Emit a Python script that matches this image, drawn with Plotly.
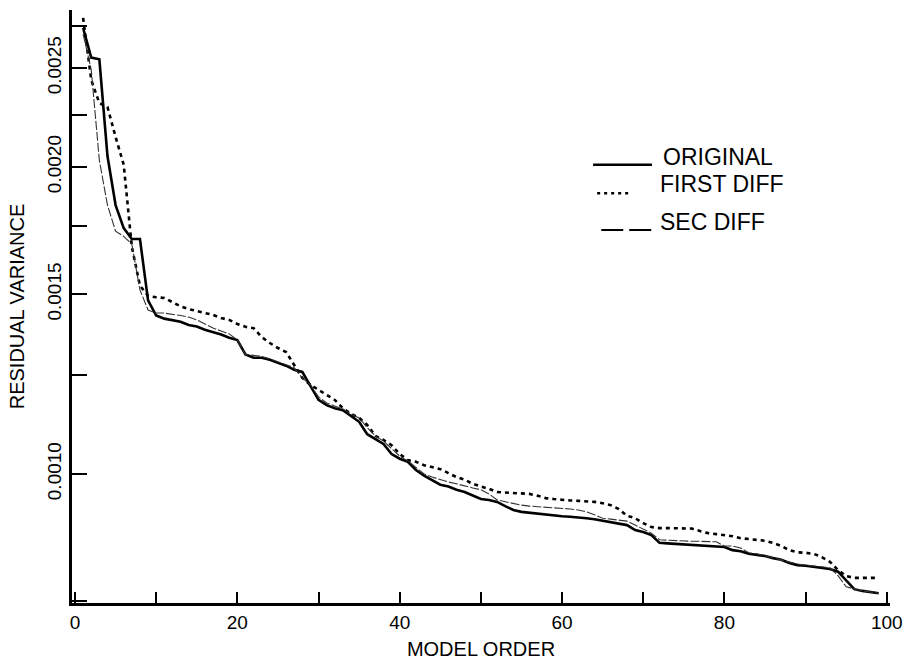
import plotly.graph_objects as go

order = list(range(1, 100))

original = [
    2.737e-3, 2.56e-3, 2.55e-3, 2.05e-3, 1.835e-3, 1.742e-3, 1.70e-3, 1.70e-3, 1.48e-3, 1.43e-3,
    1.42e-3, 1.415e-3, 1.41e-3, 1.40e-3, 1.395e-3, 1.385e-3, 1.378e-3, 1.37e-3, 1.36e-3, 1.353e-3,
    1.31e-3, 1.30e-3, 1.30e-3, 1.294e-3, 1.285e-3, 1.277e-3, 1.265e-3, 1.259e-3, 1.22e-3, 1.182e-3,
    1.168e-3, 1.16e-3, 1.155e-3, 1.14e-3, 1.125e-3, 1.094e-3, 1.082e-3, 1.07e-3, 1.046e-3, 1.035e-3,
    1.028e-3, 1.009e-3, 0.996e-3, 0.985e-3, 0.976e-3, 0.972e-3, 0.965e-3, 0.96e-3, 0.952e-3, 0.945e-3,
    0.943e-3, 0.939e-3, 0.93e-3, 0.922e-3, 0.918e-3, 0.916e-3, 0.914e-3, 0.912e-3, 0.91e-3, 0.909e-3,
    0.908e-3, 0.907e-3, 0.905e-3, 0.903e-3, 0.900e-3, 0.897e-3, 0.894e-3, 0.891e-3, 0.881e-3, 0.877e-3,
    0.871e-3, 0.856e-3, 0.855e-3, 0.854e-3, 0.853e-3, 0.852e-3, 0.852e-3, 0.851e-3, 0.85e-3, 0.848e-3,
    0.842e-3, 0.84e-3, 0.835e-3, 0.833e-3, 0.831e-3, 0.827e-3, 0.824e-3, 0.818e-3, 0.814e-3, 0.813e-3,
    0.811e-3, 0.809e-3, 0.807e-3, 0.802e-3, 0.787e-3, 0.771e-3, 0.768e-3, 0.766e-3, 0.764e-3,
]

first_diff = [
    2.80e-3, 2.434e-3, 2.31e-3, 2.29e-3, 2.14e-3, 2.01e-3, 1.67e-3, 1.53e-3, 1.495e-3, 1.49e-3,
    1.488e-3, 1.474e-3, 1.46e-3, 1.451e-3, 1.445e-3, 1.438e-3, 1.432e-3, 1.422e-3, 1.416e-3, 1.403e-3,
    1.394e-3, 1.39e-3, 1.362e-3, 1.344e-3, 1.329e-3, 1.317e-3, 1.279e-3, 1.242e-3, 1.223e-3, 1.209e-3,
    1.195e-3, 1.182e-3, 1.16e-3, 1.145e-3, 1.135e-3, 1.117e-3, 1.09e-3, 1.08e-3, 1.067e-3, 1.046e-3,
    1.032e-3, 1.028e-3, 1.02e-3, 1.016e-3, 1.011e-3, 1.002e-3, 0.993e-3, 0.987e-3, 0.978e-3, 0.972e-3,
    0.967e-3, 0.96e-3, 0.959e-3, 0.958e-3, 0.958e-3, 0.956e-3, 0.952e-3, 0.947e-3, 0.945e-3, 0.943e-3,
    0.942e-3, 0.941e-3, 0.94e-3, 0.939e-3, 0.936e-3, 0.932e-3, 0.924e-3, 0.91e-3, 0.905e-3, 0.895e-3,
    0.887e-3, 0.885e-3, 0.885e-3, 0.885e-3, 0.885e-3, 0.884e-3, 0.879e-3, 0.875e-3, 0.873e-3, 0.871e-3,
    0.869e-3, 0.865e-3, 0.863e-3, 0.862e-3, 0.86e-3, 0.856e-3, 0.85e-3, 0.842e-3, 0.838e-3, 0.837e-3,
    0.835e-3, 0.829e-3, 0.82e-3, 0.805e-3, 0.794e-3, 0.791e-3, 0.791e-3, 0.791e-3, 0.791e-3,
]

sec_diff = [
    2.70e-3, 2.49e-3, 2.03e-3, 1.835e-3, 1.73e-3, 1.71e-3, 1.68e-3, 1.515e-3, 1.448e-3, 1.438e-3,
    1.438e-3, 1.435e-3, 1.43e-3, 1.425e-3, 1.416e-3, 1.403e-3, 1.39e-3, 1.381e-3, 1.372e-3, 1.353e-3,
    1.31e-3, 1.307e-3, 1.304e-3, 1.297e-3, 1.288e-3, 1.28e-3, 1.271e-3, 1.242e-3, 1.223e-3, 1.19e-3,
    1.174e-3, 1.166e-3, 1.158e-3, 1.145e-3, 1.135e-3, 1.11e-3, 1.09e-3, 1.077e-3, 1.058e-3, 1.041e-3,
    1.03e-3, 1.014e-3, 1.0e-3, 0.993e-3, 0.987e-3, 0.982e-3, 0.978e-3, 0.973e-3, 0.969e-3, 0.965e-3,
    0.956e-3, 0.943e-3, 0.939e-3, 0.935e-3, 0.932e-3, 0.93e-3, 0.929e-3, 0.928e-3, 0.927e-3, 0.926e-3,
    0.924e-3, 0.922e-3, 0.918e-3, 0.912e-3, 0.905e-3, 0.903e-3, 0.901e-3, 0.899e-3, 0.891e-3, 0.883e-3,
    0.875e-3, 0.862e-3, 0.861e-3, 0.86e-3, 0.86e-3, 0.859e-3, 0.859e-3, 0.858e-3, 0.858e-3, 0.85e-3,
    0.85e-3, 0.846e-3, 0.837e-3, 0.835e-3, 0.831e-3, 0.827e-3, 0.824e-3, 0.82e-3, 0.816e-3, 0.814e-3,
    0.813e-3, 0.811e-3, 0.809e-3, 0.795e-3, 0.775e-3, 0.771e-3, 0.768e-3, 0.766e-3, 0.764e-3,
]

series_names = ["ORIGINAL", "FIRST DIFF", "SEC DIFF"]
x_tick_vals = list(range(0, 101, 10))
x_tick_text = ["0", "", "20", "", "40", "", "60", "", "80", "", "100"]
y_tick_vals = [0.00075, 0.001, 0.00125, 0.0015, 0.00175, 0.002, 0.00225, 0.0025, 0.00275]
y_tick_text = ["", "0.0010", "", "0.0015", "", "0.0020", "", "0.0025", ""]

FONT = "Liberation Sans, Arial, sans-serif"
styles = [
    dict(color="black", width=2.6, dash="solid"),
    dict(color="black", width=2.6, dash="4px,4px"),
    dict(color="#333333", width=1.1, dash="9px,2px"),
]
legend_samples = [
    dict(color="black", width=2.4, dash="solid"),
    dict(color="black", width=2.6, dash="3px,4px"),
    dict(color="black", width=2.2, dash="22px,6px"),
]

fig = go.Figure()
for name, vals, st in zip(series_names, [original, first_diff, sec_diff], styles):
    fig.add_trace(go.Scatter(x=order, y=vals, mode="lines", name=name,
                             line=st, showlegend=False))

# Legend drawn as line samples + text (paper coordinates)
leg_rows = [
    (0.637, 0.709, 0.739, 0.752, 0.720),
    (0.642, 0.682, 0.691, 0.706, 0.716),
    (0.647, 0.710, 0.629, 0.642, 0.716),
]
for (x0, x1, yl, yt, xt), name, st in zip(leg_rows, series_names, legend_samples):
    fig.add_shape(type="line", xref="paper", yref="paper", x0=x0, x1=x1, y0=yl, y1=yl,
                  line=st)
    fig.add_annotation(xref="paper", yref="paper", x=xt, y=yt, text=name,
                       showarrow=False, xanchor="left", yanchor="middle",
                       font=dict(family=FONT, size=23, color="black"))

fig.update_layout(
    width=905, height=660,
    margin=dict(l=72, r=15, t=10, b=57),
    paper_bgcolor="white", plot_bgcolor="white",
    font=dict(family=FONT, color="black"),
    xaxis=dict(
        range=[-0.37, 100.4], showgrid=False, zeroline=False, automargin=False,
        showline=True, linecolor="black", linewidth=3,
        ticks="inside", ticklen=11, tickwidth=2, tickcolor="black",
        tickmode="array", tickvals=x_tick_vals, ticktext=x_tick_text,
        tickfont=dict(family=FONT, size=19), ticklabeloverflow="allow",
        title=dict(text="MODEL ORDER", font=dict(family=FONT, size=20)),
    ),
    yaxis=dict(
        type="log", range=[-3.1265, -2.5451], showgrid=False, zeroline=False,
        automargin=False,
        showline=True, linecolor="black", linewidth=3,
        ticks="inside", ticklen=15, tickwidth=2, tickcolor="black",
        tickmode="array", tickvals=y_tick_vals, ticktext=y_tick_text,
        tickangle=-90,
        tickfont=dict(family=FONT, size=19),
        title=dict(text="RESIDUAL VARIANCE", font=dict(family=FONT, size=20)),
    ),
)

fig.write_html("out.html")
